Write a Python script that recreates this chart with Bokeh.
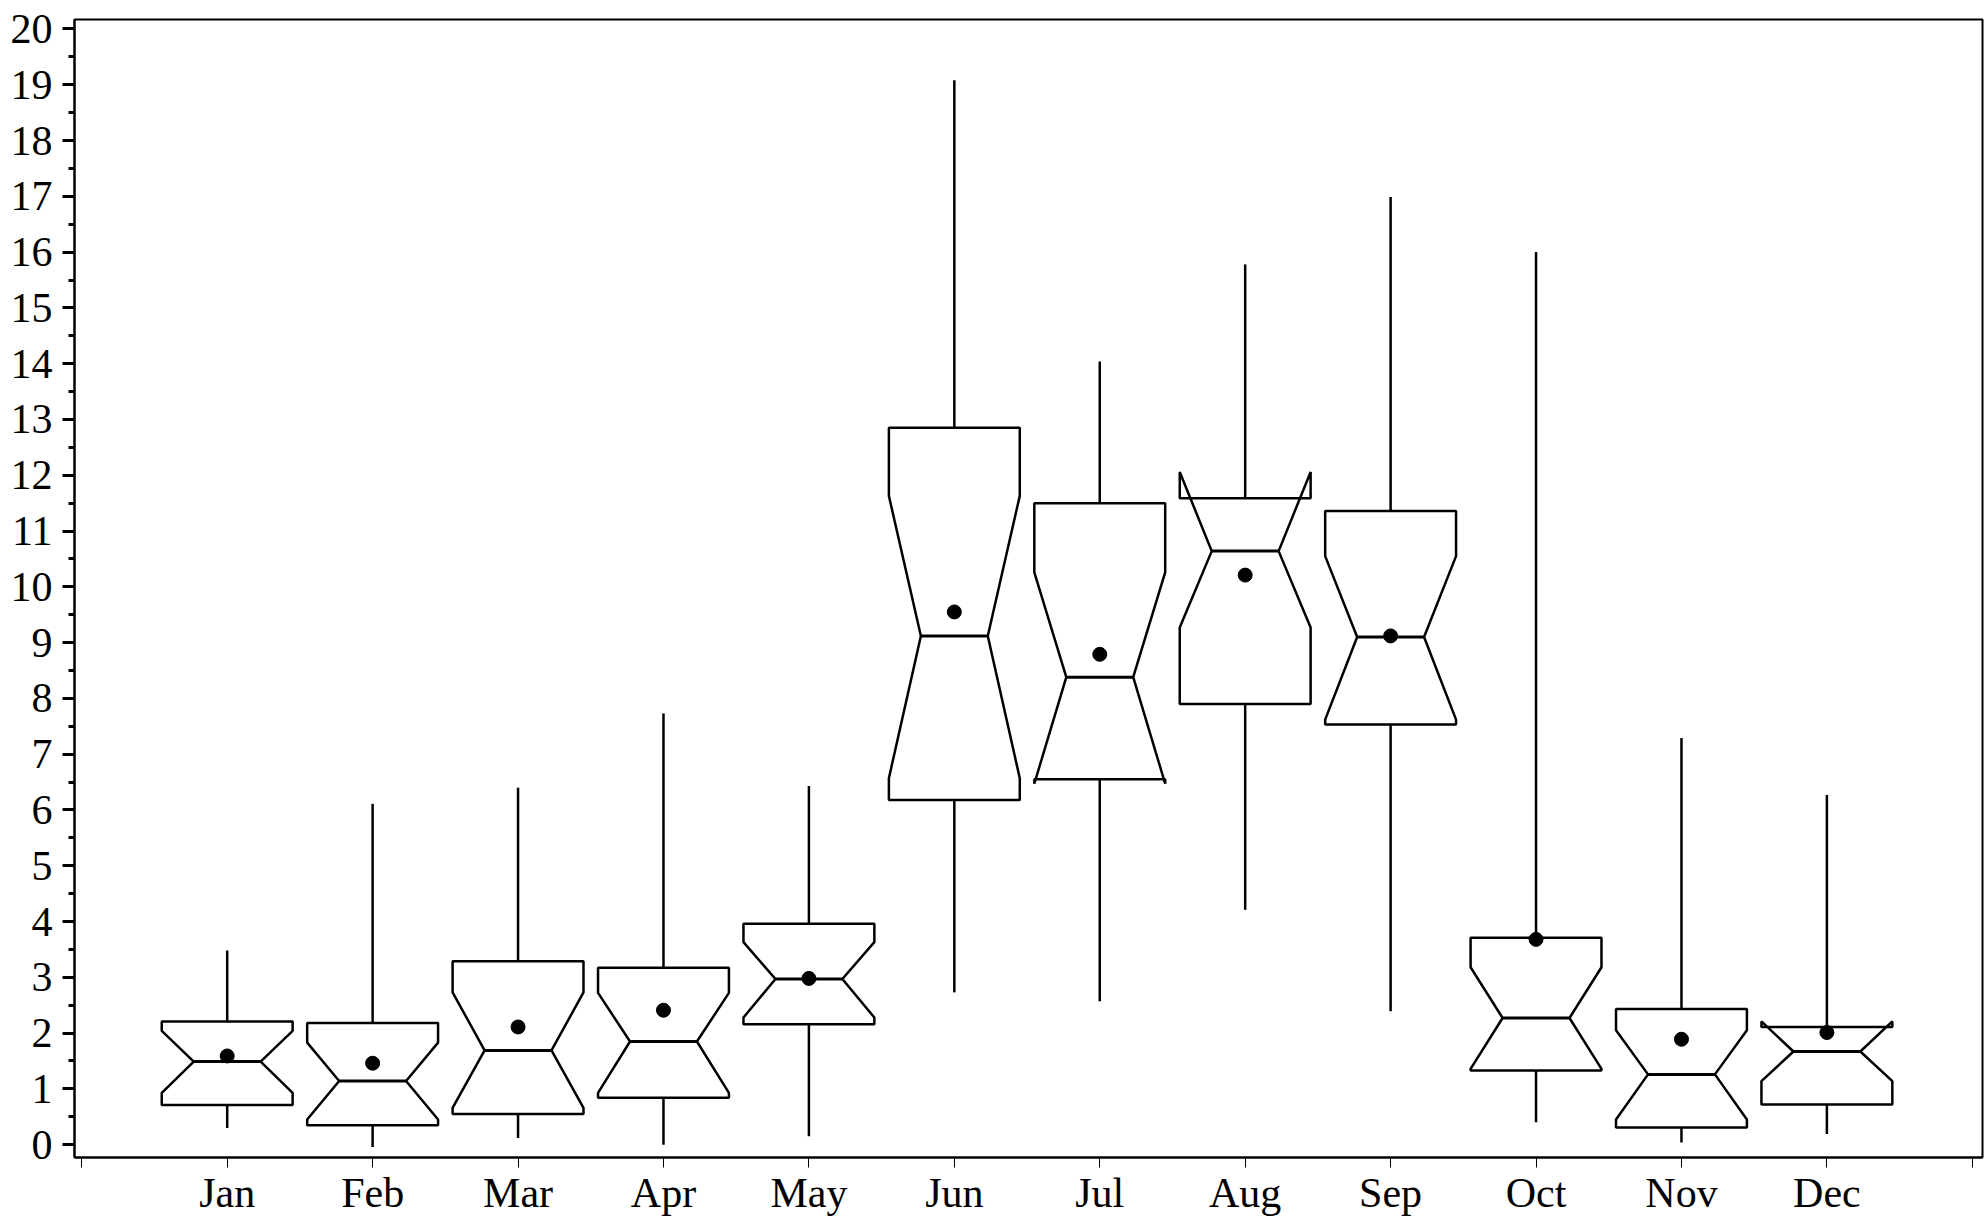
from bokeh.plotting import figure
from bokeh.models import FixedTicker, SingleIntervalTicker, Range1d, ColumnDataSource
from bokeh.embed import file_html
from bokeh.resources import INLINE

months = ["Jan", "Feb", "Mar", "Apr", "May", "Jun", "Jul", "Aug", "Sep", "Oct", "Nov", "Dec"]
x_pos = list(range(1, 13))
whisker_max = [3.48, 6.11, 6.40, 7.73, 6.43, 19.08, 14.04, 15.78, 16.99, 16.00, 7.29, 6.27]
q3 = [2.21, 2.18, 3.29, 3.17, 3.96, 12.85, 11.50, 11.59, 11.36, 3.71, 2.43, 2.11]
notch_hi = [2.04, 1.83, 2.73, 2.72, 3.63, 11.63, 10.26, 12.06, 10.55, 3.18, 2.05, 2.21]
median = [1.49, 1.14, 1.69, 1.85, 2.97, 9.12, 8.38, 10.64, 9.10, 2.27, 1.26, 1.67]
notch_lo = [0.93, 0.45, 0.66, 0.93, 2.28, 6.57, 6.47, 9.27, 7.62, 1.36, 0.45, 1.14]
q1 = [0.71, 0.35, 0.55, 0.84, 2.16, 6.18, 6.55, 7.90, 7.53, 1.33, 0.31, 0.72]
whisker_min = [0.30, -0.04, 0.12, 0.00, 0.15, 2.73, 2.57, 4.21, 2.39, 0.40, 0.04, 0.19]
mean = [1.59, 1.46, 2.11, 2.41, 2.98, 9.55, 8.79, 10.21, 9.12, 3.68, 1.89, 2.01]

BOX_HALF = 0.45
NOTCH_HALF = 0.23

xs, ys = [], []
for c, a, nh, m, nl, b in zip(x_pos, q3, notch_hi, median, notch_lo, q1):
    xs.append([c - BOX_HALF, c - BOX_HALF, c - NOTCH_HALF, c - BOX_HALF, c - BOX_HALF,
               c + BOX_HALF, c + BOX_HALF, c + NOTCH_HALF, c + BOX_HALF, c + BOX_HALF])
    ys.append([b, nl, m, nh, a, a, nh, m, nl, b])

p = figure(width=1984, height=1218, output_backend="svg", toolbar_location=None,
           x_range=Range1d(-0.05, 13.07), y_range=Range1d(-0.23, 20.17),
           min_border_left=74, min_border_top=19, min_border_right=2, min_border_bottom=40)
p.grid.visible = False
p.outline_line_color = "black"
p.outline_line_width = 2
p.background_fill_color = "white"
p.border_fill_color = "white"

src = ColumnDataSource(dict(x=x_pos, q3=q3, q1=q1, mx=whisker_max, mn=whisker_min,
                            med=median, mean=mean,
                            ml=[c - NOTCH_HALF for c in x_pos], mr=[c + NOTCH_HALF for c in x_pos]))

p.segment(x0="x", y0="q3", x1="x", y1="mx", source=src, line_color="black", line_width=2.5)
p.segment(x0="x", y0="q1", x1="x", y1="mn", source=src, line_color="black", line_width=2.5)
p.patches(xs, ys, fill_color="white", line_color="black", line_width=2.5)
p.segment(x0="ml", y0="med", x1="mr", y1="med", source=src, line_color="black", line_width=3)
p.scatter(x="x", y="mean", source=src, size=14, color="black")

# x axis
xa = p.xaxis[0]
xa.ticker = FixedTicker(ticks=list(range(0, 14)))
overrides = {0: "", 13: ""}
for c, mname in zip(x_pos, months):
    overrides[c] = mname
xa.major_label_overrides = overrides
xa.major_tick_out = 10
xa.major_tick_in = 0
xa.major_tick_line_width = 1
xa.minor_tick_line_color = None
xa.axis_line_width = 2
xa.major_label_standoff = 2
xa.major_label_text_font = "Liberation Serif"
xa.major_label_text_font_size = "42px"
xa.major_label_text_color = "black"

# y axis
ya = p.yaxis[0]
ya.ticker = SingleIntervalTicker(interval=1, num_minor_ticks=2)
ya.major_tick_out = 12
ya.major_tick_in = 0
ya.major_tick_line_width = 3
ya.minor_tick_out = 6
ya.minor_tick_in = 0
ya.minor_tick_line_width = 3
ya.axis_line_width = 2
ya.major_label_standoff = 10
ya.major_label_text_font = "Liberation Serif"
ya.major_label_text_font_size = "42px"
ya.major_label_text_color = "black"

open("out.html", "w").write(file_html(p, INLINE))
